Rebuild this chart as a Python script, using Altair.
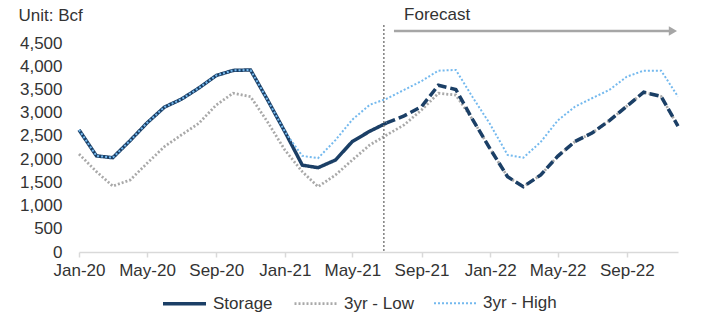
import altair as alt
import pandas as pd

# Monthly timeline, Jan-20 .. Dec-22
months = pd.date_range("2020-01-01", "2022-12-01", freq="MS").strftime("%Y-%m-%d").tolist()

# Working gas in storage, Bcf (actuals Jan-20 .. Jul-21)
storage_actual = [2630, 2070, 2030, 2400, 2780, 3120, 3290, 3530, 3800, 3910, 3920, 3280,
                  2590, 1870, 1815, 1980, 2380, 2600, 2780]
# Forecast path, Jul-21 .. Dec-22
storage_forecast = [2780, 2930, 3130, 3590, 3500, 2850, 2220, 1620, 1405, 1660, 2060, 2380,
                    2560, 2830, 3140, 3440, 3350, 2710]
# Three-year range, Jan-20 .. Dec-22
low_3yr = [2110, 1730, 1420, 1550, 1910, 2270, 2520, 2770, 3165, 3420, 3345, 2806,
           2196, 1730, 1406, 1658, 1981, 2304, 2519, 2735, 3058, 3417, 3380, 2850,
           2220, 1620, 1405, 1660, 2060, 2380, 2560, 2830, 3140, 3440, 3350, 2710]
high_3yr = [2630, 2070, 2030, 2400, 2780, 3120, 3290, 3530, 3800, 3910, 3920, 3280,
            2590, 2070, 2020, 2410, 2850, 3170, 3300, 3490, 3680, 3905, 3920, 3330,
            2750, 2090, 2030, 2370, 2830, 3130, 3310, 3490, 3775, 3905, 3905, 3345]

series_names = ["Storage", "3yr - Low", "3yr - High"]
series_colors = ["#1B3F66", "#A9A9A9", "#74B9EE"]
series_dash = [[1, 0], [2, 2], [2, 2]]
series_width = [3.5, 2, 2]

tick_months = ["2020-01", "2020-05", "2020-09", "2021-01", "2021-05",
               "2021-09", "2022-01", "2022-05", "2022-09"]

forecast_start = "2021-06-26"
arrow_start = "2021-07-14"
arrow_end = "2022-11-17"
arrow_head = "2022-11-22"
label_date = "2021-08-01"

n_act = len(storage_actual)
actual_df = pd.DataFrame({"date": months[:n_act], "value": storage_actual, "series": "Storage"})
forecast_df = pd.DataFrame({"date": months[n_act - 1:], "value": storage_forecast})
low_df = pd.DataFrame({"date": months, "value": low_3yr, "series": "3yr - Low"})
high_df = pd.DataFrame({"date": months, "value": high_3yr, "series": "3yr - High"})


def utc_date(s):
    y, m = s.split("-")[:2]
    return alt.DateTime(year=int(y), month=int(m), date=1, utc=True)


x_enc = alt.X(
    "date:T",
    scale=alt.Scale(type="utc", domain=[utc_date("2020-01"), utc_date("2022-12")]),
    axis=alt.Axis(
        values=[utc_date(t) for t in tick_months], format="%b-%y", title=None,
        grid=False, domainColor="#D9D9D9", domainWidth=1.5, tickColor="#D9D9D9",
        tickWidth=1.5, tickSize=5, labelFontSize=17, labelColor="#333333",
        labelPadding=5, labelFlush=False, labelOverlap=False,
    ),
)
y_enc = alt.Y(
    "value:Q",
    scale=alt.Scale(domain=[0, 4500]),
    axis=alt.Axis(
        values=list(range(0, 4501, 500)), format=",.0f", title="Unit: Bcf",
        titleAngle=0, titleAlign="left", titleBaseline="middle", titleX=-61, titleY=-28,
        titleFontSize=17, titleFontWeight="normal", titleColor="#333333",
        domain=False, ticks=False, grid=False, labelFontSize=17, labelPadding=17,
        labelColor="#333333", labelOverlap=False,
    ),
)
legend = alt.Legend(
    title=None, orient="none", direction="horizontal", legendX=82, legendY=237,
    symbolType="stroke", symbolSize=1849, labelFontSize=17, labelColor="#333333",
    labelOffset=5, columnPadding=16, padding=0,
)
color_enc = alt.Color("series:N", scale=alt.Scale(domain=series_names, range=series_colors), legend=legend)
dash_enc = alt.StrokeDash("series:N", scale=alt.Scale(domain=series_names, range=series_dash), legend=legend)
width_enc = alt.StrokeWidth("series:N", scale=alt.Scale(domain=series_names, range=series_width), legend=legend)


def series_line(df):
    return alt.Chart(df).mark_line().encode(
        x=x_enc, y=y_enc, color=color_enc, strokeDash=dash_enc, strokeWidth=width_enc
    )


low_line = series_line(low_df)
actual_line = series_line(actual_df)
forecast_line = alt.Chart(forecast_df).mark_line(
    color=series_colors[0], strokeWidth=3.5, strokeDash=[9, 4]
).encode(x=x_enc, y=y_enc)
high_line = series_line(high_df)

divider = alt.Chart(pd.DataFrame({"date": [forecast_start]})).mark_rule(
    color="#7F7F7F", strokeWidth=1.5, strokeDash=[2, 2]
).encode(x=x_enc, y=alt.value(-18), y2=alt.value(209))

arrow = alt.Chart(pd.DataFrame({"date": [arrow_start], "date_end": [arrow_end]})).mark_rule(
    color="#A6A6A6", strokeWidth=2.5
).encode(x=x_enc, x2="date_end:T", y=alt.value(-12))

arrow_tip = alt.Chart(pd.DataFrame({"date": [arrow_head]})).mark_point(
    shape="triangle-right", filled=True, size=90, color="#A6A6A6", opacity=1
).encode(x=x_enc, y=alt.value(-12))

label = alt.Chart(pd.DataFrame({"date": [label_date], "text": ["Forecast"]})).mark_text(
    align="left", baseline="middle", fontSize=17, color="#333333"
).encode(x=x_enc, y=alt.value(-28), text="text:N")

chart = alt.layer(
    low_line, actual_line, forecast_line, high_line, divider, arrow, arrow_tip, label
).properties(
    width=599, height=209,
    padding={"left": 79, "top": 43, "right": 37, "bottom": 70},
    autosize="none",
    background="white",
).configure(
    font="Liberation Sans",
).configure_view(stroke=None)

chart.save("out.html", embed_options={"renderer": "svg", "actions": False})
